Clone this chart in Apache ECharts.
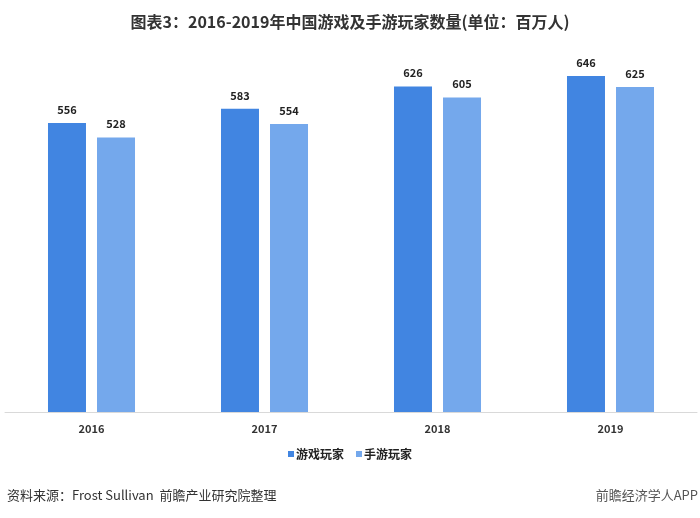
<!DOCTYPE html>
<html><head><meta charset="utf-8">
<script src="https://cdn.jsdelivr.net/npm/echarts@6/dist/echarts.min.js"></script>
<style>html,body{margin:0;padding:0;background:#fff}#c{width:700px;height:518px}</style>
</head><body><div id="c"></div>
<script>
const categories = ['2016','2017','2018','2019'];
const gamePlayers = [556, 583, 626, 646];
const mobilePlayers = [528, 554, 605, 625];
const seriesNames = ['游戏玩家','手游玩家'];
const titleText = '图表3：2016-2019年中国游戏及手游玩家数量(单位：百万人)';
const sourceText = '资料来源：Frost Sullivan  前瞻产业研究院整理';
const brandText = '前瞻经济学人APP';

const font = '"Noto Sans CJK SC", "Noto Sans", sans-serif';
const chart = echarts.init(document.getElementById('c'));
chart.setOption({
  animation: false,
  textStyle: {fontFamily: font},
  title: {
    text: titleText, left: 'center', top: 9,
    textStyle: {fontSize: 16, fontWeight: 'bold', color: '#333', fontFamily: font}
  },
  legend: {
    data: seriesNames, left: 'center', top: 443,
    icon: 'rect', itemWidth: 6, itemHeight: 6, itemGap: 12,
    textStyle: {fontSize: 12, fontWeight: 'bold', color: '#222', padding: [0,0,0,-3]}
  },
  grid: {left: 5, right: 3, top: 48, height: 364},
  xAxis: {
    type: 'category', data: categories,
    axisLine: {lineStyle: {color: '#d9d9d9', width: 1}},
    axisTick: {show: false},
    axisLabel: {fontSize: 11, fontWeight: 'bold', color: '#333', margin: 11}
  },
  yAxis: {type: 'value', min: 0, max: 700, show: false, splitLine: {show: false}},
  series: [
    {name: seriesNames[0], type: 'bar', data: gamePlayers, barWidth: 38, barGap: '29%',
     itemStyle: {color: '#4185E1'},
     label: {show: true, position: 'top', distance: 8, fontSize: 11, fontWeight: 'bold', color: '#222'}},
    {name: seriesNames[1], type: 'bar', data: mobilePlayers, barWidth: 38,
     itemStyle: {color: '#74A8EC'},
     label: {show: true, position: 'top', distance: 8, fontSize: 11, fontWeight: 'bold', color: '#222'}}
  ],
  graphic: [
    {type: 'text', left: 7, top: 489, style: {text: sourceText, fontSize: 13, fill: '#333', fontFamily: font}},
    {type: 'text', right: 2, top: 489, style: {text: brandText, fontSize: 13, fill: '#555', fontFamily: font}}
  ]
});
</script></body></html>
